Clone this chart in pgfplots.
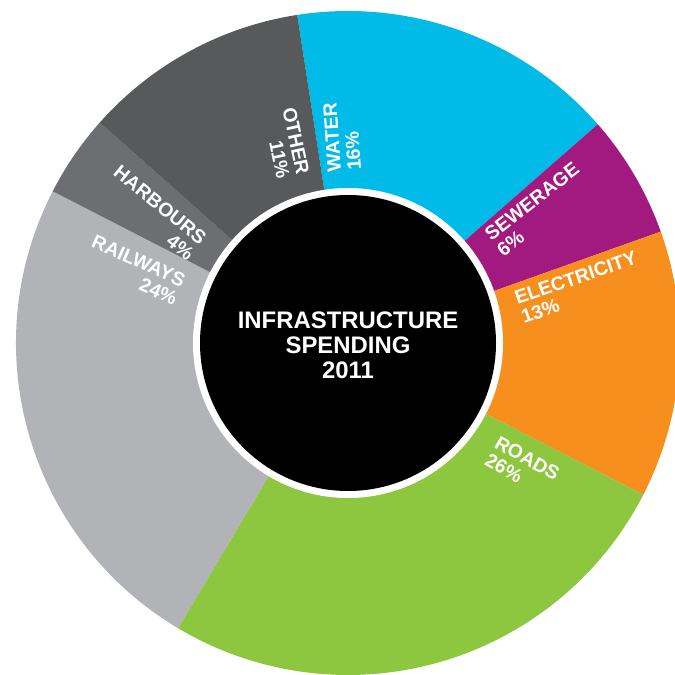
\documentclass[border=0pt]{standalone}
\usepackage{pgfplots}
\pgfplotsset{compat=1.18}
\usepackage{fontspec}
\setmainfont{Liberation Sans}
\definecolor{cwater}{HTML}{00BBE7}
\definecolor{csew}{HTML}{A2197F}
\definecolor{celec}{HTML}{F68F1E}
\definecolor{croad}{HTML}{8DC63F}
\definecolor{crail}{HTML}{B1B3B6}
\definecolor{charb}{HTML}{6D6E71}
\definecolor{cother}{HTML}{58595B}
\begin{document}
\begin{tikzpicture}
\begin{axis}[
  width=675bp, height=675bp, scale only axis,
  xmin=-348, xmax=327, ymin=-332, ymax=343,
  hide axis, clip=true,
]
\xdef\cur{98.8}
\foreach \v/\c in {16/cwater,6/csew,13/celec,26/croad,24/crail,4/charb,11/cother}{
  \pgfmathsetmacro{\endang}{\cur-3.6*\v}
  \pgfmathsetmacro{\sx}{332*cos(\cur)}
  \pgfmathsetmacro{\sy}{332*sin(\cur)}
  \edef\tmp{\noexpand\fill[\c] (axis cs:0,0) -- (axis cs:\sx,\sy) arc[start angle=\cur, end angle=\endang, radius=332bp] -- cycle;}
  \tmp
  \xdef\cur{\endang}
}
\fill[white] (axis cs:0,0) circle[radius=155bp];
\fill[black] (axis cs:0,0) circle[radius=148bp];
\node[white, align=center, inner sep=0, font=\fontsize{24}{25}\selectfont\bfseries] at (axis cs:0,-2) {INFRASTRUCTURE\\SPENDING\\2011};
\tikzset{lab/.style={white, inner sep=0, font=\fontsize{19.5}{20}\selectfont\bfseries}}
\node[lab, rotate=94, anchor=north west, align=left] at (axis cs:-20.3,170.6) {WATER\\16\%};
\node[lab, rotate=38, anchor=north west, align=left] at (axis cs:134.7,112.1) {SEWERAGE\\6\%};
\node[lab, rotate=19, anchor=north west, align=left] at (axis cs:165,51) {ELECTRICITY\\13\%};
\node[lab, rotate=-29, anchor=north west, align=left] at (axis cs:151.9,-92) {ROADS\\26\%};
\node[lab, rotate=-24, anchor=north east, align=right] at (axis cs:-160.7,68) {RAILWAYS\\24\%};
\node[lab, rotate=-39, anchor=north east, align=right] at (axis cs:-139.7,108) {HARBOURS\\4\%};
\node[lab, rotate=-78, anchor=north east, align=right] at (axis cs:-38,170) {OTHER\\11\%};
\end{axis}
\pgfresetboundingbox
\useasboundingbox (current axis.south west) rectangle (current axis.north east);
\end{tikzpicture}
\end{document}
